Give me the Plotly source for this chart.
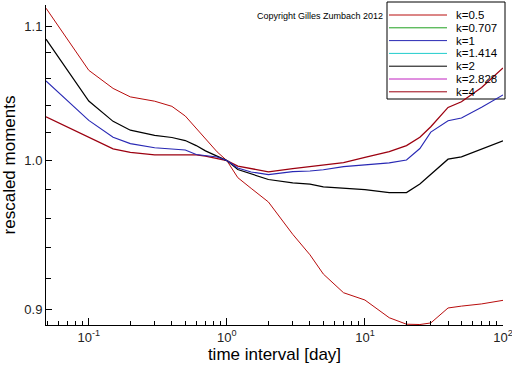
import math
import plotly.graph_objects as go

# ---------------- data ----------------
time_interval = [0.049, 0.07, 0.1, 0.15, 0.2, 0.3, 0.4, 0.5, 0.6, 0.7, 0.85, 1,
                 1.2, 1.5, 2, 3, 4, 5, 7, 10, 15, 20, 25, 30, 40, 50, 70, 100]

moments_k0_5 = [1.1141, 1.0898, 1.0661, 1.0525, 1.0462, 1.0430, 1.0392, 1.0321, 1.0229,
                1.0151, 1.0062, 1.0000, 0.9880, 0.9805, 0.9711, 0.9491, 0.9354, 0.9227,
                0.9106, 0.9059, 0.8946, 0.8905, 0.8903, 0.8913, 0.9008, 0.9020, 0.9034, 0.9057]

moments_k1 = [1.0581, 1.0435, 1.0289, 1.0167, 1.0121, 1.0091, 1.0083, 1.0075, 1.0043,
              1.0035, 1.0025, 1.0000, 0.9948, 0.9920, 0.9901, 0.9922, 0.9926, 0.9935,
              0.9957, 0.9970, 0.9984, 1.0004, 1.0086, 1.0204, 1.0286, 1.0307, 1.0385, 1.0477]

moments_k2 = [1.0899, 1.0663, 1.0431, 1.0282, 1.0218, 1.0181, 1.0165, 1.0143, 1.0107,
              1.0069, 1.0029, 1.0000, 0.9937, 0.9905, 0.9867, 0.9843, 0.9834, 0.9815,
              0.9805, 0.9796, 0.9776, 0.9776, 0.9835, 0.9901, 1.0010, 1.0026, 1.0083, 1.0141]

moments_k4 = [1.0315, 1.0239, 1.0164, 1.0083, 1.0058, 1.0040, 1.0040, 1.0040, 1.0040,
              1.0031, 1.0016, 1.0000, 0.9961, 0.9943, 0.9921, 0.9943, 0.9959, 0.9967,
              0.9985, 1.0022, 1.0063, 1.0107, 1.0167, 1.0243, 1.0384, 1.0426, 1.0532, 1.0679]

legend_labels = ["k=0.5", "k=0.707", "k=1", "k=1.414", "k=2", "k=2.828", "k=4"]

x_tick_values = [0.1, 1, 10, 100]
x_tick_labels = ["10<sup>-1</sup>", "10<sup>0</sup>", "10<sup>1</sup>", "10<sup>2</sup>"]
y_tick_values = [0.9, 1.0, 1.1]
y_tick_labels = ["0.9", "1.0", "1.1"]

# ---------------- styling ----------------
legend_colors = ["#b80c0c", "#1fa01f", "#2828b4", "#20cccc", "#000000", "#c020c0", "#9c0010"]
FONT = "Liberation Sans, Arial, Helvetica, sans-serif"

W, H = 512, 366
L, R, T, B = 46, 503, 5, 325


def paper_x(px):
    return (px - L) / (R - L)


def paper_y(py):
    return (B - py) / (B - T)


fig = go.Figure()

series = [
    (moments_k0_5, legend_colors[0], 1.0),
    (moments_k4, legend_colors[6], 1.3),
    (moments_k2, legend_colors[4], 1.2),
    (moments_k1, legend_colors[2], 1.1),
]
for values, color, width in series:
    fig.add_trace(go.Scatter(x=time_interval, y=values, mode="lines",
                             line=dict(color=color, width=width),
                             showlegend=False, hoverinfo="skip"))

# minor tick positions
x_minor = [m * 10 ** d for d in range(-2, 2) for m in range(2, 10)]
y_minor = [0.88, 0.92, 0.94, 0.96, 0.98, 1.02, 1.04, 1.06, 1.08, 1.12]

fig.update_layout(
    template="none",
    width=W, height=H,
    margin=dict(l=L, r=W - R, t=T, b=H - B, autoexpand=False),
    paper_bgcolor="white", plot_bgcolor="white",
    font=dict(family=FONT, color="black"),
    showlegend=False,
    xaxis=dict(
        type="log",
        range=[math.log10(0.049), 2],
        tickmode="array", tickvals=x_tick_values, ticktext=x_tick_labels,
        ticks="inside", ticklen=7, tickwidth=1, tickcolor="black",
        ticklabeloverflow="allow",
        minor=dict(tickmode="array", tickvals=x_minor, ticks="inside",
                   ticklen=4, tickwidth=1, tickcolor="black", showgrid=False),
        showline=True, linecolor="black", linewidth=1, mirror=False,
        showgrid=False, zeroline=False, automargin=False,
        tickfont=dict(family=FONT, size=13, color="#222"),
        title=dict(text="time interval [day]", font=dict(family=FONT, size=17, color="black"),
                   standoff=4),
    ),
    yaxis=dict(
        type="log",
        range=[math.log10(0.89), math.log10(1.1166)],
        tickmode="array", tickvals=y_tick_values, ticktext=y_tick_labels,
        ticks="inside", ticklen=6, tickwidth=1, tickcolor="black",
        minor=dict(tickmode="array", tickvals=y_minor, ticks="inside",
                   ticklen=5, tickwidth=1, tickcolor="black", showgrid=False),
        showline=True, linecolor="black", linewidth=1, mirror=False,
        showgrid=False, zeroline=False, automargin=False,
        tickfont=dict(family=FONT, size=13, color="#222"),
        title=dict(text="rescaled moments", font=dict(family=FONT, size=17, color="black"),
                   standoff=4),
    ),
)

# ---------------- hand-built legend box (drawn beneath the curves) ----------------
box_l, box_r, box_t, box_b = 387, 505, 2, 99
fig.add_shape(type="rect", xref="paper", yref="paper", layer="below",
              x0=paper_x(box_l), x1=paper_x(box_r), y0=paper_y(box_b), y1=paper_y(box_t),
              line=dict(color="black", width=1), fillcolor="white")
row0, row_step = 15, 12.8
for i, (label, color) in enumerate(zip(legend_labels, legend_colors)):
    yy = paper_y(row0 + i * row_step)
    fig.add_shape(type="line", xref="paper", yref="paper", layer="below",
                  x0=paper_x(389), x1=paper_x(447), y0=yy, y1=yy,
                  line=dict(color=color, width=1))
    fig.add_annotation(xref="paper", yref="paper", x=paper_x(455), y=yy,
                       xanchor="left", yanchor="middle", showarrow=False,
                       height=12, borderpad=0, valign="middle",
                       text=label, font=dict(family=FONT, size=11.5, color="black"))

fig.add_annotation(xref="paper", yref="paper", x=paper_x(255), y=paper_y(16),
                   xanchor="left", yanchor="middle", showarrow=False,
                   text="Copyright Gilles Zumbach 2012",
                   font=dict(family=FONT, size=9, color="black"))

fig.write_html("out.html",
               config={"displayModeBar": False},
               post_script="document.body.style.margin='0';document.body.style.overflow='hidden';")
